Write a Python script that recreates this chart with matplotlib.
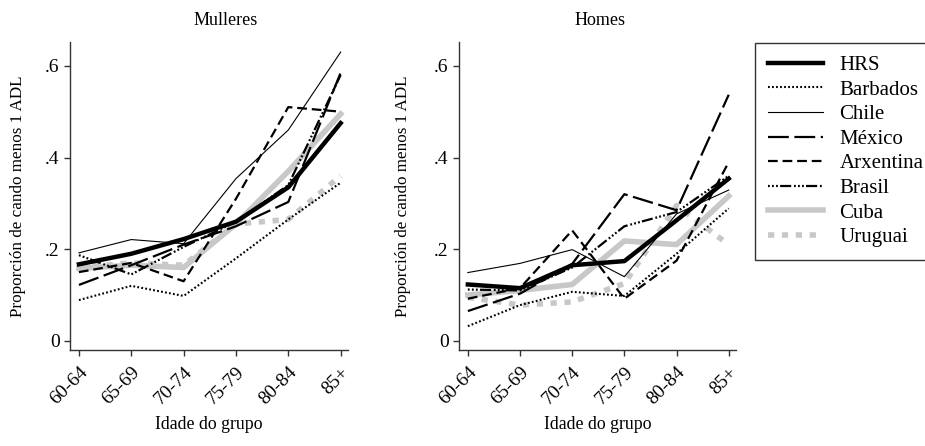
import matplotlib
matplotlib.use('Agg')
import matplotlib.pyplot as plt
import numpy as np

plt.rcParams['font.family'] = ['Liberation Serif', 'DejaVu Serif']
plt.rcParams['lines.scale_dashes'] = False

age_groups = ['60-64', '65-69', '70-74', '75-79', '80-84', '85+']
series_names = ['HRS', 'Barbados', 'Chile', 'México', 'Arxentina', 'Brasil', 'Cuba', 'Uruguai']

# Mulleres
women_hrs = [0.167, 0.19, 0.222, 0.26, 0.335, 0.475]
women_barbados = [0.089, 0.12, 0.098, 0.18, 0.265, 0.345]
women_chile = [0.192, 0.221, 0.212, 0.354, 0.46, 0.63]
women_mexico = [0.122, 0.165, 0.21, 0.25, 0.303, 0.585]
women_arxentina = [0.15, 0.17, 0.13, 0.31, 0.51, 0.50]
women_brasil = [0.187, 0.145, 0.205, 0.26, 0.34, 0.58]
women_cuba = [0.158, 0.165, 0.16, 0.255, 0.37, 0.495]
women_uruguai = [0.16, 0.17, 0.165, 0.255, 0.265, 0.36]

# Homes
men_hrs = [0.123, 0.115, 0.165, 0.174, 0.263, 0.354]
men_barbados = [0.032, 0.078, 0.107, 0.098, 0.19, 0.289]
men_chile = [0.149, 0.169, 0.199, 0.14, 0.277, 0.329]
men_mexico = [0.065, 0.103, 0.168, 0.32, 0.285, 0.537]
men_arxentina = [0.092, 0.115, 0.241, 0.092, 0.175, 0.39]
men_brasil = [0.112, 0.11, 0.16, 0.25, 0.281, 0.36]
men_cuba = [0.1, 0.11, 0.123, 0.218, 0.21, 0.316]
men_uruguai = [0.095, 0.078, 0.085, 0.125, 0.295, 0.21]

women = [women_hrs, women_barbados, women_chile, women_mexico,
         women_arxentina, women_brasil, women_cuba, women_uruguai]
men = [men_hrs, men_barbados, men_chile, men_mexico,
       men_arxentina, men_brasil, men_cuba, men_uruguai]

gray = '#c8c8c8'
styles = {
    'HRS': dict(color='black', lw=3.2, ls='-', zorder=9),
    'Barbados': dict(color='black', lw=1.5, ls=(0, (1.3, 1.6)), zorder=5),
    'Chile': dict(color='black', lw=0.8, ls='-', zorder=6),
    'México': dict(color='black', lw=1.6, ls=(0, (15, 4)), zorder=6),
    'Arxentina': dict(color='black', lw=1.6, ls=(0, (7, 3.5)), zorder=6),
    'Brasil': dict(color='black', lw=1.6,
                   ls=(0, (1.3, 1.6, 1.3, 1.6, 1.3, 1.6, 8, 2)), zorder=6),
    'Cuba': dict(color=gray, lw=4.0, ls='-', zorder=2),
    'Uruguai': dict(color=gray, lw=4.0, ls=(0, (4.5, 5.5)), zorder=3,
                    solid_capstyle='butt', dash_capstyle='butt'),
}

fig = plt.figure(figsize=(9.25, 4.46), dpi=100)
ax1 = fig.add_axes([0.0757, 0.2152, 0.3005, 0.6906])
ax2 = fig.add_axes([0.4962, 0.2152, 0.2995, 0.6906])

x = np.arange(len(age_groups))
for ax, data, title, tx, ylx in [(ax1, women, 'Mulleres', 0.56, -0.16),
                                 (ax2, men, 'Homes', 0.51, -0.175)]:
    for name, vals in zip(series_names, data):
        ax.plot(x, vals, label=name, **styles[name])
    ax.set_xlim(-0.17, 5.14)
    ax.set_ylim(-0.02, 0.652)
    ax.set_yticks([0, 0.2, 0.4, 0.6])
    ax.set_yticklabels(['0', '.2', '.4', '.6'])
    ax.set_xticks(x)
    ax.set_xticklabels(age_groups, rotation=45, ha='right', rotation_mode='anchor')
    for s in ['top', 'right']:
        ax.spines[s].set_visible(False)
    for s in ['left', 'bottom']:
        ax.spines[s].set_color('#333333')
        ax.spines[s].set_linewidth(1.0)
    ax.tick_params(axis='both', direction='out', length=4, width=1.0,
                   color='#333333', labelsize=14)
    ax.tick_params(axis='x', pad=6)
    ax.set_xlabel('Idade do grupo', fontsize=12.8)
    ax.xaxis.set_label_coords(0.5, -0.213)
    ax.set_ylabel('Proporción de cando menos 1 ADL', fontsize=12.3)
    ax.yaxis.set_label_coords(ylx, 0.5)
    ax.set_title(title, fontsize=13, x=tx, pad=12)

handles, labels = ax1.get_legend_handles_labels()
leg = fig.legend(handles, labels, loc='upper left',
                 bbox_to_anchor=(755 / 925, 1 - 43 / 446),
                 fontsize=15, frameon=True, fancybox=False, shadow=False,
                 edgecolor='black', borderaxespad=0, borderpad=0.6,
                 handlelength=2.65, handletextpad=0.8, labelspacing=0.24)
leg.get_frame().set_linewidth(1.0)

plt.savefig('out.png', dpi=100)
